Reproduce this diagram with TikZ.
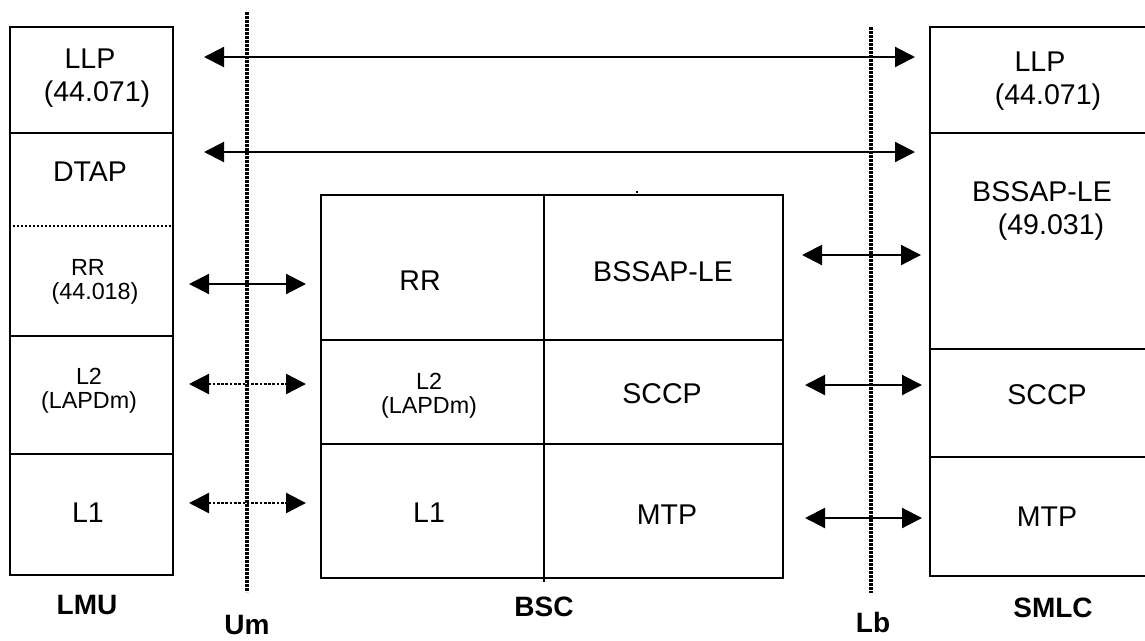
\documentclass[tikz,border=0pt]{standalone}
\usepackage{fontspec}
\setmainfont{Liberation Sans}
\usetikzlibrary{arrows.meta,fit}
\begin{document}
\begin{tikzpicture}[x=0.75pt,y=-0.75pt,
 box/.style={draw, line width=1.8pt, inner sep=0pt},
 big/.style={font=\fontsize{21.4}{24.7}\selectfont, align=center, inner sep=0pt},
 small/.style={font=\fontsize{17.5}{18}\selectfont, align=center, inner sep=0pt},
 lbl/.style={font=\fontsize{21}{24}\selectfont\bfseries, inner sep=0pt},
 ifline/.style={line width=2.4pt, dash pattern=on 2pt off 1pt},
 divider/.style={line width=1.8pt},
 dotdivider/.style={line width=1.8pt, dash pattern=on 2pt off 1pt},
 biarrow/.style={line width=1.6pt, {Triangle[length=15pt,width=15pt]}-{Triangle[length=15pt,width=15pt]}},
 dotarrow/.style={biarrow, line width=1.8pt, dash pattern=on 2pt off 1.2pt}]
\useasboundingbox (0,0) rectangle (1145,640);

% stacks
\node[box, fit={(10,27)(173,575)}] (lmu) {};
\node[box, fit={(321,195)(783,578)}] (bsc) {};
\node[box, fit={(930,27)(1152,576)}] (smlc) {};

% LMU dividers
\draw[divider] (lmu.west |- 0,133) -- (lmu.east |- 0,133);
\draw[dotdivider] (lmu.west |- 0,226) -- (lmu.east |- 0,226);
\draw[divider] (lmu.west |- 0,336) -- (lmu.east |- 0,336);
\draw[divider] (lmu.west |- 0,454) -- (lmu.east |- 0,454);

% BSC dividers
\draw[divider] (544,195) -- (544,582);
\draw[divider] (bsc.west |- 0,340) -- (bsc.east |- 0,340);
\draw[divider] (bsc.west |- 0,444) -- (bsc.east |- 0,444);

% SMLC dividers
\draw[divider] (smlc.west |- 0,133) -- (smlc.east |- 0,133);
\draw[divider] (smlc.west |- 0,349) -- (smlc.east |- 0,349);
\draw[divider] (smlc.west |- 0,457) -- (smlc.east |- 0,457);

% interface lines
\coordinate (umtop) at (247,12);
\coordinate (umbot) at (247,592);
\coordinate (lbtop) at (871,27);
\coordinate (lbbot) at (871,593);
\draw[ifline] (umtop) -- (umbot);
\draw[ifline] (lbtop) -- (lbbot);

% stray dot
\fill (636,191) rectangle (638,193);

% LMU texts
\node[big] (lmuLLP) at (90,78) {LLP\\\hspace*{10.5pt}(44.071)};
\node[big] (lmuDTAP) at (90,172) {DTAP};
\node[small] (lmuRR) at (88,282) {RR\\\hspace*{10.5pt}(44.018)};
\node[small] (lmuL2) at (89,391) {L2\\(LAPDm)};
\node[big] (lmuL1) at (88,513) {L1};

% BSC texts
\node[big] (bscRR) at (420,281) {RR};
\node[big] (bscBSSAP) at (663,272) {BSSAP-LE};
\node[small] (bscL2) at (429,396) {L2\\(LAPDm)};
\node[big] (bscSCCP) at (662,394) {SCCP};
\node[big] (bscL1) at (429,513) {L1};
\node[big] (bscMTP) at (667,515) {MTP};

% SMLC texts
\node[big] (smlcLLP) at (1040,81) {LLP\\\hspace*{12pt}(44.071)};
\node[big] (smlcBSSAP) at (1042,211) {BSSAP-LE\\\hspace*{13.5pt}(49.031)};
\node[big] (smlcSCCP) at (1047,395) {SCCP};
\node[big] (smlcMTP) at (1047,517) {MTP};

% labels
\node[lbl] (lLMU) at (87,605) {LMU};
\node[lbl] (lUm) at (247,625) {Um};
\node[lbl] (lBSC) at (544,607) {BSC};
\node[lbl] (lLb) at (873,622) {Lb};
\node[lbl] (lSMLC) at (1053,608) {SMLC};

% arrows
\coordinate (a1l) at (204,57);  \coordinate (a1r) at (915,57);
\coordinate (a2l) at (204,152); \coordinate (a2r) at (915,152);
\coordinate (a3l) at (189,284); \coordinate (a3r) at (306,284);
\coordinate (a4l) at (189,384); \coordinate (a4r) at (306,384);
\coordinate (a5l) at (189,503); \coordinate (a5r) at (306,503);
\coordinate (a6l) at (802,255); \coordinate (a6r) at (921,255);
\coordinate (a7l) at (805,385); \coordinate (a7r) at (922,385);
\coordinate (a8l) at (805,518); \coordinate (a8r) at (922,518);
\draw[biarrow] (a1l) -- (a1r);
\draw[biarrow] (a2l) -- (a2r);
\draw[biarrow] (a3l) -- (a3r);
\draw[dotarrow] (a4l) -- (a4r);
\draw[dotarrow] (a5l) -- (a5r);
\draw[biarrow] (a6l) -- (a6r);
\draw[biarrow] (a7l) -- (a7r);
\draw[biarrow] (a8l) -- (a8r);
\end{tikzpicture}
\end{document}
